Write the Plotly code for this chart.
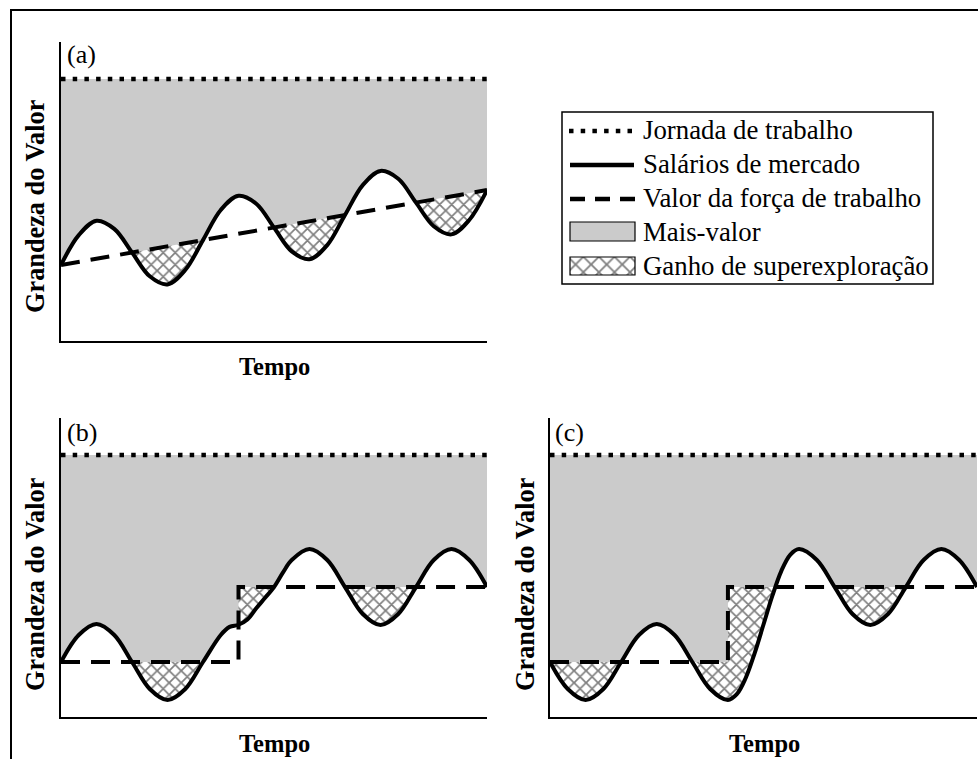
import plotly.graph_objects as go

# ---------------- data ----------------
# time axis runs 0..12 (three wage cycles), value axis 0..11.4
jornada_x = [0, 12]
jornada_y = [10, 10]

# panel (a): rising value of labour power, wages oscillating around it
a_wage_x = [0, 0.5, 1, 1.5, 2, 2.5, 3, 3.5, 4, 4.5, 5, 5.5, 6, 6.5, 7, 7.5, 8, 8.5, 9, 9.5, 10, 10.5, 11, 11.5, 12]
a_wage_y = [2.90, 4.04, 4.59, 4.28, 3.38, 2.47, 2.16, 2.71, 3.85, 5.00, 5.54, 5.24, 4.33, 3.42, 3.12, 3.66,
            4.81, 5.95, 6.49, 6.19, 5.28, 4.38, 4.07, 4.62, 5.76]
a_valor_x = [0, 12]
a_valor_y = [2.90, 5.76]

# panel (b): step in value of labour power, wages follow
b_wage_x = [0, 0.5, 1, 1.5, 2, 2.5, 3, 3.5, 4, 4.5, 4.75, 5, 5.25, 5.5, 5.75, 6, 6.25, 6.5, 7, 7.5, 8, 8.5, 9,
            9.5, 10, 10.5, 11, 11.5, 12]
b_wage_y = [2.10, 3.13, 3.55, 3.13, 2.10, 1.07, 0.65, 1.07, 2.10, 3.13, 3.44, 3.52, 3.72, 4.15, 4.55, 4.96, 5.51,
            5.99, 6.41, 5.99, 4.96, 3.93, 3.51, 3.93, 4.96, 5.99, 6.41, 5.99, 4.96]
b_valor_x = [0, 5, 5, 12]
b_valor_y = [2.10, 2.10, 4.96, 4.96]

# panel (c): step in value of labour power, wages lag behind
c_wage_x = [0, 0.5, 1, 1.5, 2, 2.5, 3, 3.5, 4, 4.5, 5, 5.25, 5.5, 5.75, 6, 6.25, 6.5, 6.75, 7, 7.5, 8, 8.5, 9,
            9.5, 10, 10.5, 11, 11.5, 12]
c_wage_y = [2.10, 1.07, 0.65, 1.07, 2.10, 3.13, 3.55, 3.13, 2.10, 1.07, 0.65, 0.87, 1.49, 2.43, 3.53, 4.63, 5.57,
            6.19, 6.41, 5.99, 4.96, 3.93, 3.51, 3.93, 4.96, 5.99, 6.41, 5.99, 4.96]
c_valor_x = [0, 5, 5, 12]
c_valor_y = [2.10, 2.10, 4.96, 4.96]

panel_labels = ["(a)", "(b)", "(c)"]
y_title = "Grandeza do Valor"
x_title = "Tempo"
legend_labels = ["Jornada de trabalho", "Salários de mercado", "Valor da força de trabalho",
                 "Mais-valor", "Ganho de superexploração"]

# ---------------- styling ----------------
W, H = 978, 759
GRAY = "#cbcbcb"
SERIF = "Liberation Serif, Times New Roman, serif"
DOT = "4.5px,7.2px"
DASH = "19px,11px"
HATCH = dict(shape="x", fgcolor="black", bgcolor="white", size=8.5, solidity=0.36)
HATCH_LEG = dict(shape="x", fgcolor="black", bgcolor="white", size=11, solidity=0.3)


def px_dom(a, b, total, flip=False):
    if flip:
        return [1 - b / total, 1 - a / total]
    return [a / total, b / total]


fig = go.Figure()


def add_panel(xa, ya, wx, wy, vx, vy):
    common = dict(xaxis=xa, yaxis=ya, showlegend=False, hoverinfo="skip", mode="lines")
    # gray surplus value: between working day and wages
    fig.add_trace(go.Scatter(x=jornada_x, y=jornada_y, line=dict(width=0), **common))
    fig.add_trace(go.Scatter(x=wx, y=wy, line=dict(width=0, shape="spline"), fill="tonexty",
                             fillcolor=GRAY, **common))
    # hatched super-exploitation band between value of labour power and wages
    fig.add_trace(go.Scatter(x=vx, y=vy, line=dict(width=0), **common))
    fig.add_trace(go.Scatter(x=wx, y=wy, line=dict(width=0, shape="spline"), fill="tonexty",
                             fillcolor="white", fillpattern=HATCH, **common))
    # white below wages
    fig.add_trace(go.Scatter(x=wx, y=wy, line=dict(width=0, shape="spline"), fill="tozeroy",
                             fillcolor="white", **common))
    # visible lines
    fig.add_trace(go.Scatter(x=vx, y=vy, line=dict(color="black", width=4, dash=DASH), **common))
    fig.add_trace(go.Scatter(x=wx, y=wy, line=dict(color="black", width=4, shape="spline"), **common))
    fig.add_trace(go.Scatter(x=jornada_x, y=jornada_y, line=dict(color="black", width=4.5, dash=DOT), **common))


add_panel("x", "y", a_wage_x, a_wage_y, a_valor_x, a_valor_y)
add_panel("x2", "y2", b_wage_x, b_wage_y, b_valor_x, b_valor_y)
add_panel("x3", "y3", c_wage_x, c_wage_y, c_valor_x, c_valor_y)

# legend swatch with hatch (overlay pixel axes)
LG = dict(x0=570, x1=635)
fig.add_trace(go.Scatter(x=[LG["x0"], LG["x1"], LG["x1"], LG["x0"], LG["x0"]], y=[257, 257, 275, 275, 257],
                         mode="lines", line=dict(width=0), fill="toself", fillcolor="white", fillpattern=HATCH_LEG,
                         xaxis="x4", yaxis="y4", showlegend=False, hoverinfo="skip"))

ax = dict(showline=True, linecolor="black", linewidth=2, showgrid=False, zeroline=False,
          showticklabels=False, ticks="", fixedrange=True)
yr = [0, 11.4]
fig.update_layout(
    xaxis=dict(domain=px_dom(61, 487, W), range=[0, 12], anchor="y", **ax),
    yaxis=dict(domain=px_dom(42.3, 341, H, flip=True), range=yr, anchor="x", **ax),
    xaxis2=dict(domain=px_dom(61, 487, W), range=[0, 12], anchor="y2", **ax),
    yaxis2=dict(domain=px_dom(418.3, 717, H, flip=True), range=yr, anchor="x2", **ax),
    xaxis3=dict(domain=px_dom(550, 977, W), range=[0, 12], anchor="y3", **ax),
    yaxis3=dict(domain=px_dom(418.3, 717, H, flip=True), range=yr, anchor="x3", **ax),
    xaxis4=dict(domain=[0, 1], range=[0, W], anchor="y4", visible=False, fixedrange=True),
    yaxis4=dict(domain=[0, 1], range=[H, 0], anchor="x4", visible=False, fixedrange=True),
    width=W, height=H, autosize=False,
    margin=dict(l=0, r=0, t=0, b=0, pad=0),
    paper_bgcolor="white", plot_bgcolor="rgba(0,0,0,0)",
    showlegend=False,
)

shapes = []
# outer frame
shapes.append(dict(type="rect", xref="x4", yref="y4", x0=11, y0=10, x1=W + 20, y1=H + 20,
                   line=dict(color="black", width=2), fillcolor="rgba(0,0,0,0)", layer="above"))
# legend box
shapes.append(dict(type="rect", xref="x4", yref="y4", x0=562, y0=112, x1=933, y1=284,
                   line=dict(color="black", width=1.5), fillcolor="rgba(0,0,0,0)", layer="above"))
shapes.append(dict(type="line", xref="x4", yref="y4", x0=569, x1=634, y0=131, y1=131,
                   line=dict(color="black", width=4.5, dash=DOT)))
shapes.append(dict(type="line", xref="x4", yref="y4", x0=570, x1=634, y0=165, y1=165,
                   line=dict(color="black", width=4.5)))
shapes.append(dict(type="line", xref="x4", yref="y4", x0=570, x1=635, y0=199, y1=199,
                   line=dict(color="black", width=4.5, dash="15px,10px")))
shapes.append(dict(type="rect", xref="x4", yref="y4", x0=LG["x0"], x1=LG["x1"], y0=222, y1=241,
                   line=dict(color="black", width=1.2), fillcolor=GRAY))
shapes.append(dict(type="rect", xref="x4", yref="y4", x0=LG["x0"], x1=LG["x1"], y0=257, y1=275,
                   line=dict(color="black", width=1.2), fillcolor="rgba(0,0,0,0)", layer="above"))
fig.update_layout(shapes=shapes)

ann = []


def text(x, y, s, size, bold=False, angle=0, xanchor="center"):
    ann.append(dict(xref="x4", yref="y4", x=x, y=y, text=("<b>%s</b>" % s) if bold else s,
                    showarrow=False, textangle=angle, xanchor=xanchor, yanchor="middle",
                    font=dict(family=SERIF, size=size, color="black")))


# panel labels and axis titles
for lab, (lx, ly) in zip(panel_labels, [(81, 54), (82, 432), (569, 432)]):
    text(lx, ly, lab, 26)
for (tx, ty) in [(35, 206), (35, 584), (525, 584)]:
    text(tx, ty, y_title, 26.3, bold=True, angle=-90)
for (tx, ty) in [(274, 366), (274, 743), (764, 743)]:
    text(tx, ty, x_title, 24.5, bold=True)
# legend texts
for lab, ly in zip(legend_labels, [130, 164, 198, 232, 266]):
    text(641, ly, lab, 26.8, xanchor="left")
fig.update_layout(annotations=ann)

fig.write_html("out.html", config={"displayModeBar": False},
               post_script="document.body.style.margin='0px';")
